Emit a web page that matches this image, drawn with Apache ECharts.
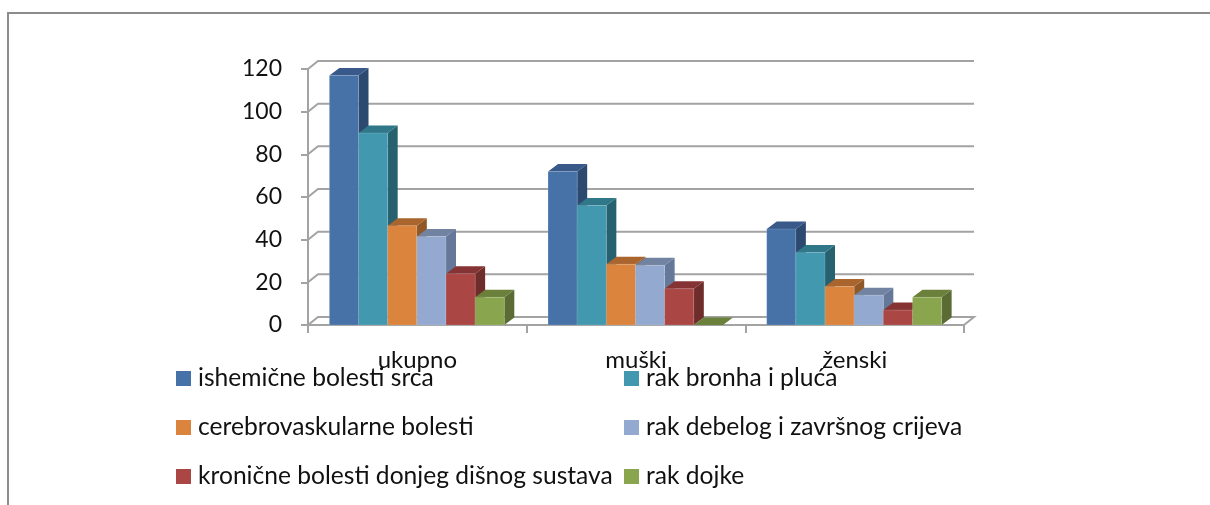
<!DOCTYPE html>
<html><head><meta charset="utf-8">
<style>html,body{margin:0;padding:0;background:#fff}#c{width:1210px;height:505px}</style>
<script src="https://cdn.jsdelivr.net/npm/echarts@6/dist/echarts.min.js"></script>
</head><body><div id="c"></div>
<script>
const categories = ['ukupno', 'muški', 'ženski'];
const yTicks = [0, 20, 40, 60, 80, 100, 120];
const seriesNames = ['ishemične bolesti srca', 'rak bronha i pluća', 'cerebrovaskularne bolesti', 'rak debelog i završnog crijeva', 'kronične bolesti donjeg dišnog sustava', 'rak dojke'];
const ishemicne = [117, 72, 45];
const rakBronha = [90, 56, 34];
const cerebro = [46.5, 28.5, 18];
const rakDebelog = [41.5, 28, 14];
const kronicne = [24, 17, 7];
const rakDojke = [13, 0, 13];
const allValues = [ishemicne, rakBronha, cerebro, rakDebelog, kronicne, rakDojke];
const front = ['#4672A8', '#4198AF', '#DB843D', '#93A9CF', '#AA4643', '#89A54E'];
const topC = ['#38598a', '#2f7789', '#a9652d', '#7183a1', '#853433', '#6a803b'];
const sideC = ['#2c4a70', '#27606f', '#8f5826', '#65789a', '#6e2c2a', '#5a6c33'];
const DX = 10, DY = 7.5;
const GRAY = '#a3a3a3';

function barRender(idx) {
  return function (params, api) {
    const cat = api.value(0), v = api.value(1);
    const band = api.size([1, 0])[0];
    const w = band / 7.5;
    const c0 = api.coord([cat, 0]), c1 = api.coord([cat, v]);
    const x0 = c0[0] + (idx - 3) * w - 0.5, x1 = x0 + w, yb = c0[1], yt = c1[1];
    const edge = 'rgba(255,255,255,0.14)';
    return { type: 'group', children: [
      { type: 'polygon', shape: { points: [[x1, yb], [x1 + DX, yb - DY], [x1 + DX, yt - DY], [x1, yt]] }, style: { fill: sideC[idx] } },
      { type: 'polygon', shape: { points: [[x0, yt], [x0 + DX, yt - DY], [x1 + DX, yt - DY], [x1, yt]] }, style: { fill: topC[idx] } },
      { type: 'rect', shape: { x: x0, y: yt, width: w, height: yb - yt }, style: { fill: front[idx], stroke: v > 0 ? edge : 'transparent', lineWidth: 1 } }
    ] };
  };
}
function frameRender(params, api) {
  const v = api.value(0);
  const cs = params.coordSys;
  const y = api.coord([0, v])[1];
  const xl = cs.x, xr = cs.x + cs.width;
  const pts = [[xl, y], [xl + DX, y - 8], [xr + DX, y - 8]];
  if (v === 0) pts.push([xr, y]);
  return { type: 'polyline', shape: { points: pts }, style: { fill: 'none', stroke: GRAY, lineWidth: 2 } };
}
const series = [{ type: 'custom', name: 'frame', renderItem: frameRender, data: yTicks.map(v => [v]), encode: { y: 0 }, silent: true, z: 1 }];
seriesNames.forEach((n, i) => series.push({
  type: 'custom', name: n, renderItem: barRender(i), itemStyle: { color: front[i] },
  data: allValues[i].map((v, c) => [c, v]), encode: { x: 0, y: 1 }, z: 2 + i
}));
const legendText = { fontFamily: 'Lato', fontSize: 24.6, color: '#111', padding: [0, 0, 0, 2] };
const legendBase = { orient: 'vertical', icon: 'rect', itemWidth: 15, itemHeight: 15, itemGap: 24, top: 366, textStyle: legendText, padding: 0, selectedMode: false };
const chart = echarts.init(document.getElementById('c'), null, { renderer: 'canvas' });
chart.setOption({
  animation: false,
  grid: { left: 308, right: 246, top: 69, bottom: 180 },
  xAxis: { type: 'category', data: categories,
    axisLine: { lineStyle: { color: GRAY, width: 2 } },
    axisTick: { show: true, alignWithLabel: false, length: 8, lineStyle: { color: GRAY, width: 2 } },
    axisLabel: { fontFamily: 'Lato', fontSize: 24, color: '#111', margin: 23 } },
  yAxis: { type: 'value', min: 0, max: 120, interval: 20,
    axisLine: { show: true, lineStyle: { color: GRAY, width: 2 } },
    axisTick: { show: true, length: 7, lineStyle: { color: GRAY, width: 2 } },
    splitLine: { show: false },
    axisLabel: { fontFamily: 'Lato', fontSize: 23, color: '#111', margin: 26 } },
  legend: [
    Object.assign({}, legendBase, { left: 176, data: [seriesNames[0], seriesNames[2], seriesNames[4]] }),
    Object.assign({}, legendBase, { left: 624, data: [seriesNames[1], seriesNames[3], seriesNames[5]] })
  ],
  series,
  graphic: [{ type: 'polyline', silent: true, shape: { points: [[8, 505], [8, 13], [1210, 13]] }, style: { fill: 'none', stroke: '#8c8c8c', lineWidth: 2 } }]
});
</script></body></html>
